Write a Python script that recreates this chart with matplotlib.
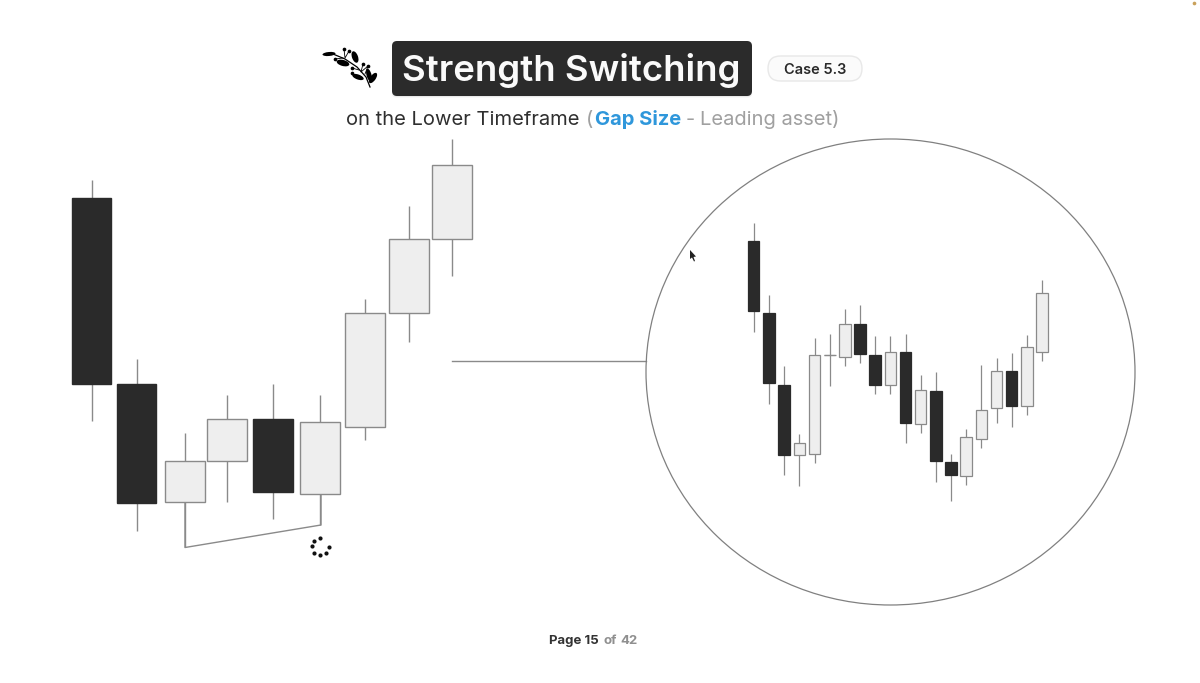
import matplotlib
matplotlib.use("Agg")
import matplotlib.pyplot as plt
from matplotlib.patches import FancyBboxPatch, Ellipse, Polygon

plt.rcParams['font.family'] = ['Inter', 'DejaVu Sans']

DARK = '#2a2a2a'
LIGHT = '#eeeeee'
EDGE = '#8a8a8a'

# Left panel candles, values read on the picture's vertical scale
left_x = [91.5, 136.5, 185, 227, 273, 320, 365, 409, 452]
left_body_top = [198, 384, 461, 419, 419, 422, 313, 239, 165]
left_body_bot = [384, 503, 502, 461, 492, 494, 427, 313, 239]
left_wick_top = [180, 359, 433, 395, 384, 395, 299, 206, 139]
left_wick_bot = [421, 531, 547, 502, 519, 525, 440, 342, 276]
left_dark = [1, 1, 0, 0, 1, 0, 0, 0, 0]

# Right panel (lower timeframe) candles
right_x = [753.7, 768.9, 784.1, 799.3, 814.5, 829.6, 844.8, 860.0, 875.2, 890.3,
           905.5, 920.7, 935.9, 951.0, 966.2, 981.4, 996.6, 1011.7, 1026.9, 1042.1]
right_body_top = [241, 313.3, 384.7, 443.3, 355, 355, 324, 324, 355, 351.7,
                  352.3, 390.3, 391, 461.7, 437, 410, 371.3, 371.3, 347.3, 292.7]
right_body_bot = [311, 383.3, 455, 455, 453.7, 355, 357.3, 354.3, 385, 385.3,
                  422.7, 424, 461, 475, 476, 439, 408, 406, 406.3, 351.7]
right_wick_top = [222.7, 294.7, 366, 433.7, 337.7, 334, 308.7, 305.3, 336.3, 336.3,
                  334, 375, 372.3, 454, 429.3, 365.3, 358, 353, 334.7, 280.3]
right_wick_bot = [331.7, 403.7, 475.3, 486, 462.7, 386, 366.3, 363.3, 394.3, 394.3,
                  443.3, 433.3, 481.7, 501.3, 485, 448.3, 422.7, 426.7, 415.3, 361]
right_dark = [1, 1, 1, 0, 0, 0, 0, 1, 1, 0, 1, 0, 1, 1, 0, 0, 0, 1, 0, 0]

bracket_x = [185, 185, 321, 321]
bracket_y = [502, 547.5, 525, 494]
connector_x = [452, 646]
connector_y = [361, 361]

spinner_x = [314, 320.3, 329, 326, 320, 314, 311.7]
spinner_y = [540.7, 538.3, 546.7, 552.7, 555.3, 552.7, 546.3]

fig = plt.figure(figsize=(12, 6.83), dpi=100, facecolor='white')
ax = fig.add_axes([0, 0, 1, 1])
ax.set_xlim(0, 1200)
ax.set_ylim(683, 0)
ax.axis('off')


def candles(xs, tops, bots, wt, wb, dark, width, lw):
    ax.vlines(xs, wt, wb, color=EDGE, lw=lw, zorder=2)
    cols = [DARK if d else LIGHT for d in dark]
    edges = [DARK if d else EDGE for d in dark]
    heights = [b - t for t, b in zip(tops, bots)]
    ax.bar(xs, heights, bottom=tops, width=width, color=cols, edgecolor=edges,
           linewidth=lw, zorder=3)


candles(left_x, left_body_top, left_body_bot, left_wick_top, left_wick_bot,
        left_dark, 39.5, 1.0)
candles(right_x, right_body_top, right_body_bot, right_wick_top, right_wick_bot,
        right_dark, 11.5, 0.9)
# doji crossbar
ax.hlines(355, 824, 836, color=EDGE, lw=0.9, zorder=3)

ax.plot(bracket_x, bracket_y, color=EDGE, lw=1.0, zorder=2)
ax.plot(connector_x, connector_y, color=EDGE, lw=1.0, zorder=2)
ax.add_patch(Ellipse((890.5, 372), 489, 466, fill=False, ec='#808080', lw=0.9, zorder=2))
ax.scatter(spinner_x, spinner_y, s=9, color='#111111', zorder=4, linewidths=0)

# cursor
ax.add_patch(Polygon([(690, 250), (690, 259), (692, 257.5), (694, 261.5), (695, 261),
                      (693.5, 257), (696, 256.5)], closed=True, fc='#222222', ec='none', zorder=5))

# corner dot
ax.scatter([1193.5], [3], s=7, color='#c9a15a', zorder=4, linewidths=0)

# title box (soft shadow, then box)
for grow, a in [(3, 0.05), (2, 0.07), (1, 0.09)]:
    ax.add_patch(FancyBboxPatch((395 - grow, 44 - grow + 1.5), 354 + 2 * grow, 49 + 2 * grow,
                                boxstyle='round,pad=0,rounding_size=4', fc='black', ec='none',
                                alpha=a, zorder=2))
ax.add_patch(FancyBboxPatch((392, 41), 360, 55, boxstyle='round,pad=0,rounding_size=5',
                            fc='#2b2b2b', ec='none', zorder=3))
ax.text(571.5, 81, 'Strength Switching', color='#fafafa', fontsize=26.3, fontweight='semibold',
        ha='center', va='baseline', zorder=4)

# case pill
ax.add_patch(FancyBboxPatch((768, 56), 94, 25, boxstyle='round,pad=0,rounding_size=12.5',
                            fc='#fbfbfb', ec='#e8e8e8', lw=1.0, zorder=3))
ax.text(815, 73.5, 'Case 5.3', color='#2a2a2a', fontsize=10.5, fontweight='semibold',
        ha='center', va='baseline', zorder=4)


def label(x, y, s, col, wt, fs):
    ax.text(x, y, s, color=col, fontsize=fs, fontweight=wt, ha='left', va='baseline', zorder=4)


# Subtitle
label(346, 125, 'on the Lower Timeframe', '#2f2f2f', 'normal', 14.5)
label(586, 125, '(', '#a0a0a0', 'normal', 14.5)
label(595, 125, 'Gap Size', '#2f97db', 'bold', 14.5)
label(686, 125, '-', '#a0a0a0', 'normal', 14.5)
label(700, 125, 'Leading asset)', '#a0a0a0', 'normal', 14.5)

# Footer
label(549, 644, 'Page 15', '#333333', 'bold', 9.5)
label(603, 644, 'of', '#8f8f8f', 'bold', 9.5)
label(620, 644, '42', '#8f8f8f', 'bold', 9.5)

# Leaf ornament
ax.plot([333, 345, 357, 366, 370], [54, 59, 67, 77, 87], color='black', lw=0.9, zorder=3)
ax.plot([344, 345, 349], [49, 58, 51], color='black', lw=0.6, zorder=3)
ax.plot([335, 343], [59, 58], color='black', lw=0.6, zorder=3)
ax.plot([363, 361, 368, 365], [64, 72, 66, 74], color='black', lw=0.6, zorder=3)
ax.plot([352, 359], [68, 70], color='black', lw=0.6, zorder=3)
leaf_x = [329, 355, 343, 358, 369, 373]
leaf_y = [54, 57, 63, 77, 75, 78]
leaf_w = [13, 12, 13, 12, 13, 12]
leaf_h = [4, 6, 6, 5, 5, 5.5]
leaf_a = [-5, 70, 15, 20, 75, -55]
for lx, ly, lw_, lh, la in zip(leaf_x, leaf_y, leaf_w, leaf_h, leaf_a):
    ax.add_patch(Ellipse((lx, ly), lw_, lh, angle=la, fc='black', ec='none', zorder=3))
ax.scatter([344, 349, 335, 363, 368, 352, 352], [49, 51, 59, 64, 66, 68, 73], s=7,
           color='black', linewidths=0, zorder=3)

fig.savefig('out.png', dpi=100, facecolor='white')
